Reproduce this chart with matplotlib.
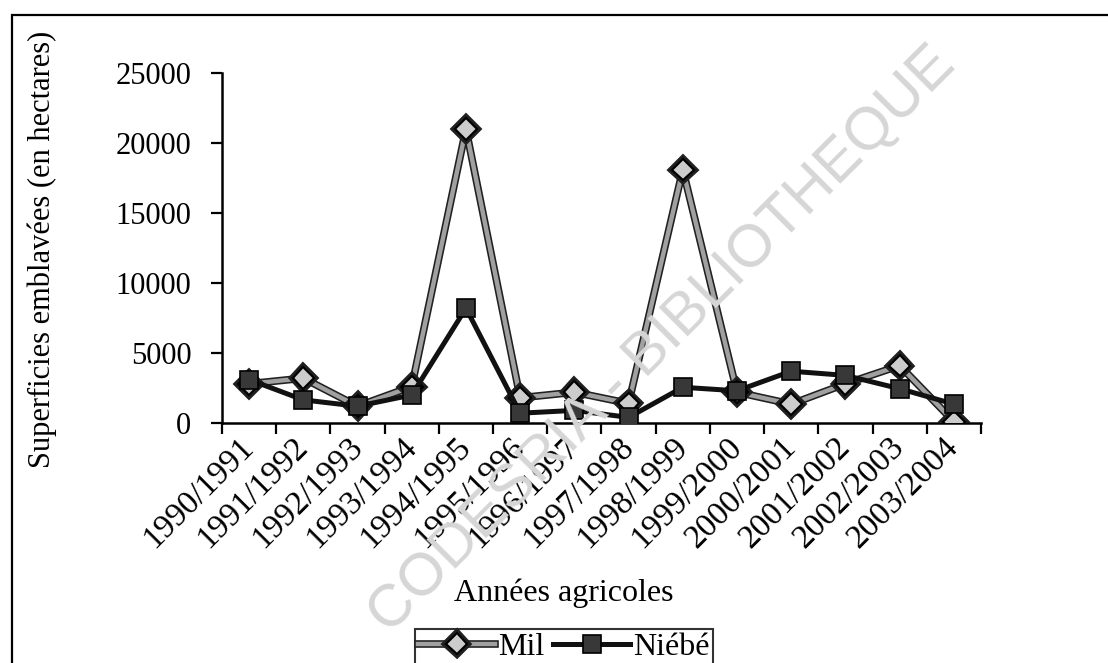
import matplotlib
matplotlib.use("Agg")
import matplotlib.pyplot as plt
import matplotlib.patheffects as pe
from matplotlib.patches import Rectangle
import numpy as np

years = ["1990/1991", "1991/1992", "1992/1993", "1993/1994", "1994/1995",
         "1995/1996", "1996/1997", "1997/1998", "1998/1999", "1999/2000",
         "2000/2001", "2001/2002", "2002/2003", "2003/2004"]
mil = [2800, 3200, 1200, 2600, 21000, 1800, 2200, 1400, 18100, 2200,
       1350, 2800, 4100, 100]
niebe = [3100, 1650, 1200, 2000, 8200, 700, 900, 400, 2550, 2300,
         3700, 3400, 2450, 1350]
yticks = [0, 5000, 10000, 15000, 20000, 25000]

W, H = 1108, 663
fig = plt.figure(figsize=(W / 100, H / 100), dpi=100)
serif = "Liberation Serif"

# outer frame
fig.patches.append(Rectangle((12 / W, -0.05), 1.2, 1 - 15 / H + 0.05,
                             transform=fig.transFigure, fill=False,
                             edgecolor="black", linewidth=1.6))

# watermark
fig.text(662 / W, 1 - 340 / H, "CODESRIA - BIBLIOTHEQUE", rotation=45,
         ha="center", va="center", fontsize=43, color="#d6d6d6",
         family="Liberation Sans", zorder=0)

ax = fig.add_axes([222 / W, 1 - 423 / H, (981 - 222) / W, (423 - 73) / H])
ax.set_facecolor("none")
x = np.arange(len(years))

ax.plot(x, mil, color="#a0a0a0", linewidth=3.2, marker="D", markersize=11,
        markerfacecolor="#cccccc", markeredgecolor="black", markeredgewidth=1.5,
        label="Mil", zorder=3,
        path_effects=[pe.Stroke(linewidth=5.5, foreground="#202020"), pe.Normal()])
ax.plot(x, niebe, color="#111111", linewidth=3.6, marker="s", markersize=13,
        markerfacecolor="#383838", markeredgecolor="black", markeredgewidth=1.2,
        label="Niébé", zorder=4)

ax.set_xlim(-0.5, len(years) - 0.5)
ax.set_ylim(0, 25000)
ax.set_yticks(yticks)
ax.set_yticklabels([str(v) for v in yticks], family=serif, fontsize=22)
ax.set_xticks(np.arange(len(years) + 1) - 0.5)
ax.set_xticklabels([])
ax.set_xticks(x, minor=True)
ax.set_xticklabels(years, minor=True, rotation=45, ha="right", va="center",
                   rotation_mode="anchor", family=serif, fontsize=24)
ax.tick_params(axis="x", which="minor", length=0, pad=14)
ax.tick_params(axis="both", which="major", direction="out", length=8,
               width=1.6, color="black")
ax.tick_params(axis="y", pad=14)
for s in ["top", "right"]:
    ax.spines[s].set_visible(False)
for s in ["left", "bottom"]:
    ax.spines[s].set_linewidth(1.8)

fig.text(42 / W, 1 - 249 / H, "Superficies emblavées (en hectares)", family=serif,
         fontsize=22, rotation=90, ha="center", va="center")
fig.text(564 / W, 1 - 593 / H, "Années agricoles", family=serif, fontsize=23,
         ha="center", va="center")

leg = fig.legend(loc="lower left", bbox_to_anchor=(415 / W, -2 / H, 298 / W, 43 / H),
                 mode="expand", ncol=2, frameon=True, fancybox=False,
                 prop={"family": serif, "size": 23}, handlelength=2.4,
                 handletextpad=0.1, columnspacing=1.0, borderpad=0.1,
                 borderaxespad=0)
leg.get_frame().set_edgecolor("black")
leg.get_frame().set_linewidth(1.5)

fig.savefig("out.png", dpi=100)
